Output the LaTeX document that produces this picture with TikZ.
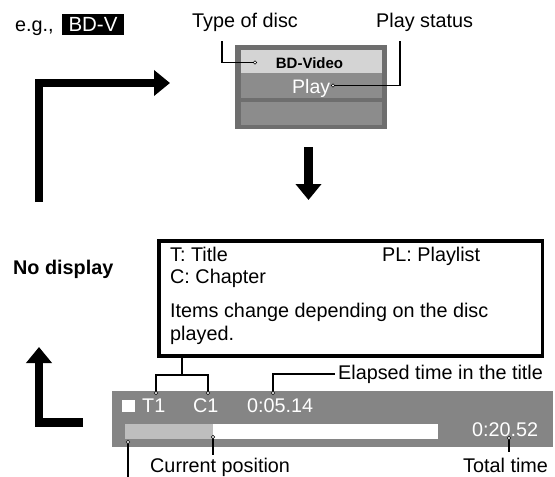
\documentclass[tikz,border=0pt]{standalone}
\usepackage{fontspec}
\setmainfont{Liberation Sans}
\usetikzlibrary{arrows.meta,positioning,calc}

\definecolor{osdframe}{HTML}{6E6E6E}
\definecolor{osdrow}{HTML}{8C8C8C}
\definecolor{osdlight}{HTML}{D4D4D4}
\definecolor{barbg}{HTML}{858585}
\definecolor{barfill}{HTML}{BEBEBE}

\tikzset{
  txt/.style={inner sep=0pt,anchor=base west,font=\fontsize{19.8}{22}\selectfont},
  wtxt/.style={txt,text=white},
  panel/.style={inner sep=0pt,outer sep=0pt},
  leader/.style={line width=1.6pt},
  halo/.style={circle,fill=white,draw=black,line width=.6pt,inner sep=0pt,minimum size=3.6pt},
  bigarrow/.style={line width=8.5pt,-{Triangle[length=16pt,width=25pt]}}
}

\begin{document}
\begin{tikzpicture}[x=1pt,y=-1pt]
  \useasboundingbox (0,0) rectangle (555,477);
  % top: example disc
  \node[txt] (eg) at (15,31) {e.g.,};
  \node[panel,fill=black,text=white,minimum width=62pt,minimum height=21pt,
        font=\fontsize{20.5}{22}\selectfont] (bdv) at (93,24.5) {BD-V};
  \node[txt] (typelbl) at (192,27) {Type of disc};
  \node[txt] (statuslbl) at (376,27) {Play status};

  % on-screen display
  \node[panel,fill=osdframe,minimum width=152pt,minimum height=84pt] (osd) at (311,87) {};
  \node[panel,fill=osdlight,minimum width=141pt,minimum height=23pt] (discrow) at (311.5,61.5) {};
  \node[panel,fill=osdrow,minimum width=141pt,minimum height=25pt] (playrow) at (311.5,85.5) {};
  \node[panel,fill=osdrow,minimum width=141pt,minimum height=23pt] (blankrow) at (311.5,113.5) {};
  \node[inner sep=0pt,anchor=base,font=\bfseries\fontsize{15}{17}\selectfont]
    (disctype) at (309.5,68) {BD-Video};
  \node[inner sep=0pt,anchor=base west,text=white,font=\fontsize{19.5}{21}\selectfont]
    (playtxt) at (292,93) {Play};

  \coordinate (typetop) at (222,41);
  \coordinate (typeend) at (255,62.5);
  \coordinate (stattop) at (400,41);
  \coordinate (statend) at (333,85.5);
  \draw[leader] (typetop) |- (typeend);
  \draw[leader] (stattop) |- (statend);
  \node[halo] at (typeend) {};
  \node[halo] at (statend) {};

  % arrows of the cycle
  \coordinate (loopa) at (39,202);
  \coordinate (loopb) at (39,83);
  \coordinate (loopc) at (170,83);
  \draw[bigarrow] (loopa) -- (loopb) -- (loopc);
  \coordinate (downa) at (308.5,147);
  \coordinate (downb) at (308.5,200);
  \draw[bigarrow] (downa) -- (downb);
  \coordinate (upa) at (83,422.5);
  \coordinate (upb) at (39,422.5);
  \coordinate (upc) at (39,347);
  \draw[bigarrow] (upa) -- (upb) -- (upc);

  \node[txt,font=\bfseries\fontsize{19.8}{22}\selectfont] (nodisp) at (13,274) {No display};

  % legend
  \node[draw,line width=3.5pt,minimum width=383.5pt,minimum height=115pt] (legend) at (350.5,298.5) {};
  \node[txt] (ttitle) at (170,261) {T: Title};
  \node[txt] (plist) at (382,261) {PL: Playlist};
  \node[txt] (cchap) at (170,283) {C: Chapter};
  \node[txt] (items) at (170,317.5) {Items change depending on the disc};
  \node[txt] (played) at (170,340) {played.};

  % status bar
  \node[panel,fill=barbg,minimum width=441pt,minimum height=56pt] (bar) at (332.5,419) {};
  \node[panel,fill=white,minimum width=13pt,minimum height=12pt] (stopsq) at (128.5,406) {};
  \node[wtxt] (tnum) at (142,412) {T1};
  \node[wtxt] (cnum) at (193,412) {C1};
  \node[wtxt] (elapsed) at (247,412) {0:05.14};
  \node[wtxt] (total) at (472,436) {0:20.52};
  \node[panel,fill=barfill,minimum width=88pt,minimum height=15pt] (fillpart) at (169,431.5) {};
  \node[panel,fill=white,minimum width=225pt,minimum height=15pt] (restpart) at (325.5,431.5) {};

  \coordinate (tlead) at (156,393);
  \coordinate (clead) at (208,393);
  \coordinate (tcbrace) at (182,375);
  \coordinate (elead) at (273,393);
  \coordinate (eend) at (335,374);
  \coordinate (curlead) at (213,437);
  \coordinate (totlead) at (509,438);
  \coordinate (startlead) at (128,442);
  \draw[leader] (tlead) |- (tcbrace) -| (clead);
  \draw[leader] (tcbrace) -- (legend.south -| tcbrace);
  \draw[leader] (elead) |- (eend);
  \draw[leader] (curlead) -- ++(0,18);
  \draw[leader] (totlead) -- ++(0,14);
  \draw[leader] (startlead) -- ++(0,35);
  \foreach \p in {tlead,clead,elead,curlead,totlead,startlead}
    \node[halo] at (\p) {};

  \node[txt] (elapsedlbl) at (338,379) {Elapsed time in the title};
  \node[txt] (curlbl) at (150,472) {Current position};
  \node[txt] (totallbl) at (463,472) {Total time};
\end{tikzpicture}
\end{document}
